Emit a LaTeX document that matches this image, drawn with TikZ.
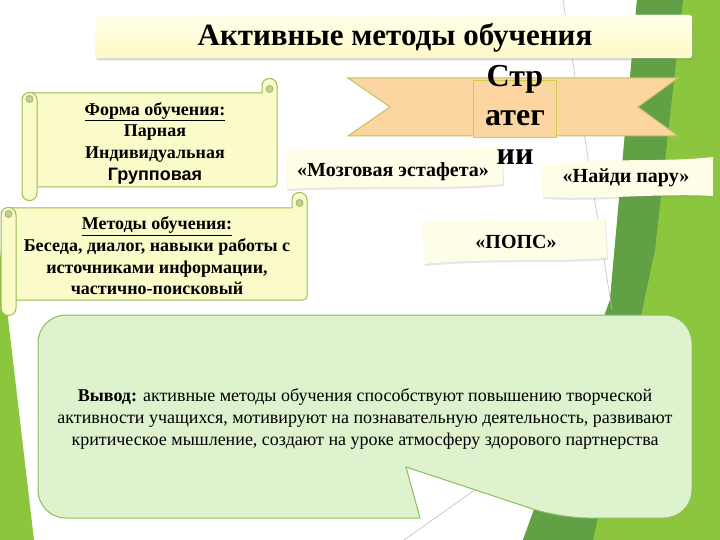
\documentclass[tikz,border=0pt]{standalone}
\usepackage{fontspec}
\setmainfont{Liberation Serif}
\newfontfamily\arialfont{Liberation Sans}
\usetikzlibrary{shadows}
\definecolor{leaf}{HTML}{8CC63F}
\definecolor{darkleaf}{HTML}{62A046}
\definecolor{scrollfill}{HTML}{FBFBC9}
\definecolor{scrollline}{HTML}{9BBB59}
\definecolor{curlfill}{HTML}{C8CBA2}
\definecolor{ribbonfill}{HTML}{FBD6A1}
\definecolor{ribbonline}{HTML}{C8BE60}
\definecolor{paperfill}{HTML}{FEFDE8}
\definecolor{calloutfill}{HTML}{DDF2CD}
\definecolor{calloutline}{HTML}{8DBE5B}
\begin{document}
\begin{tikzpicture}[x=1pt,y=-1pt,
	scroll box/.style = {draw=scrollline, fill=scrollfill, line width=1pt},
	curl/.style = {draw=scrollline, fill=curlfill, line width=0.8pt},
	paper/.style = {fill=paperfill, drop shadow={opacity=0.2, shadow xshift=1pt, shadow yshift=-2pt}},
	ribbon/.style = {draw=ribbonline, fill=ribbonfill, line width=1pt},
	label text/.style = {font=\fontsize{20}{24}\selectfont\bfseries},
	scroll text/.style = {align=center, font=\fontsize{18}{21.7}\selectfont\bfseries}]

	\useasboundingbox (0,0) rectangle (720,540);
	\fill[white] (0,0) rectangle (720,540);
	\fill[leaf] (637,0) -- (720,0) -- (720,540) -- (523,540) -- (610,300) -- cycle;
	\fill[darkleaf] (637,0) -- (683,0) -- (655,250) -- (593,540) -- (523,540) -- (610,300) -- cycle;
	\fill[leaf] (0,250) -- (34,540) -- (0,540) -- cycle;
	\draw[black!25, line width=0.6pt] (563,0) -- (612,310);
	\draw[black!25, line width=0.6pt] (404,540) -- (560,430);

	\node[draw=white, top color=yellow!8, bottom color=orange!22!yellow!22, rounded corners=3pt,
		minimum width=597pt, minimum height=43pt,
		drop shadow={opacity=0.3, shadow xshift=1pt, shadow yshift=-2.5pt}] (title) at (393.5,36.5) {};
	\node[font=\fontsize{31}{36}\selectfont\bfseries] (titletext) at (395,38) {Активные методы обучения};

	\draw[ribbon] (348,78) -- (678,78) -- (638,107) -- (678,136) -- (348,136) -- (390,107) -- cycle;
	\node[ribbon, draw=ribbonline!80!yellow, minimum width=83pt, minimum height=57pt] (centre) at (514.5,109.5) {};

	\draw[scroll box] (30,93) -- (262,93) -- (262,86) .. controls (262,76) and (277,76) .. (277,86)
		[rounded corners=4pt] -- (277,187) -- (30,187) [sharp corners] -- cycle;
	\draw[curl] (269.5,89) circle[radius=3.5];
	\draw[scroll box] (22,100) .. controls (22,90) and (37,90) .. (37,100) -- (37,193)
		.. controls (37,203) and (22,203) .. (22,193) -- cycle;
	\draw[curl] (29.5,99) circle[radius=3.5];
	\node[scroll text] (form) at (155,143) {\underline{Форма обучения:}\\Парная\\Индивидуальная\\{\arialfont Групповая}};

	\draw[scroll box] (8,208) -- (292,208) -- (292,200) .. controls (292,190) and (307,190) .. (307,200)
		[rounded corners=4pt] -- (307,300) -- (8,300) [sharp corners] -- cycle;
	\draw[curl] (299.5,203) circle[radius=3.5];
	\draw[scroll box] (1,215) .. controls (1,205) and (16,205) .. (16,215) -- (16,308)
		.. controls (16,318) and (1,318) .. (1,308) -- cycle;
	\draw[curl] (8.5,214) circle[radius=3.5];
	\node[scroll text] (methods) at (157,256) {\underline{Методы обучения:}\\Беседа, диалог, навыки работы с\\источниками информации,\\частично-поисковый};

	\fill[paper] (285,151) .. controls (360,145) and (430,153) .. (502,146) -- (503,184)
		.. controls (440,190) and (360,185) .. (286,189) -- cycle;
	\node[label text] (relay) at (393,172) {«Мозговая эстафета»};
	\fill[paper] (541,165) .. controls (600,157) and (660,163) .. (713,157) -- (713,196)
		.. controls (660,193) and (600,200) .. (542,197) -- cycle;
	\node[label text] (pair) at (626,178) {«Найди пару»};
	\fill[paper] (422,222) .. controls (480,215) and (550,223) .. (605,218) -- (607,258)
		.. controls (550,262) and (480,258) .. (424,264) -- cycle;
	\node[label text] (pops) at (516,242) {«ПОПС»};

	\node[align=center, font=\fontsize{32}{39}\selectfont\bfseries] (strat) at (515,115) {Стр\\атег\\ии};

	\draw[draw=calloutline, fill=calloutfill, line width=1pt] (38,400) [rounded corners=28pt] -- (38,315) -- (692,315)
		-- (692,518) -- (560,518) [sharp corners] -- (406,467) -- (420,518) [rounded corners=28pt] -- (38,518) [sharp corners] -- cycle;
	\node[align=center, font=\fontsize{18}{22}\selectfont] (summary) at (365,419)
		{\textbf{Вывод:} активные методы обучения способствуют повышению творческой\\
		активности учащихся, мотивируют на познавательную деятельность, развивают\\
		критическое мышление, создают на уроке атмосферу здорового партнерства};
\end{tikzpicture}
\end{document}
